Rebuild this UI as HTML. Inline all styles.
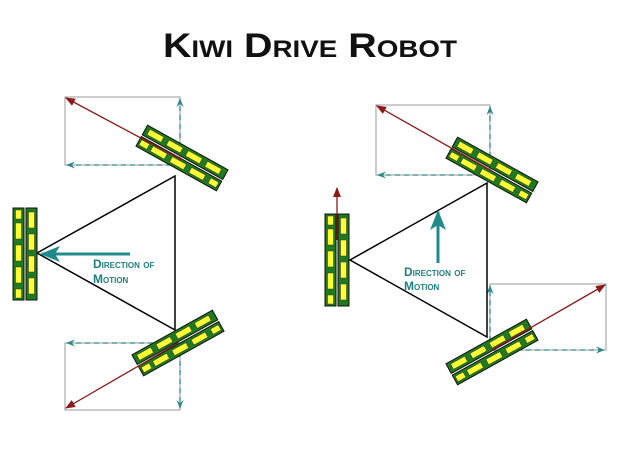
<!DOCTYPE html>
<html><head><meta charset="utf-8"><style>
html,body{margin:0;padding:0;background:#fff;}
svg{display:block;}
text{font-family:"Liberation Sans",sans-serif;font-variant:small-caps;font-weight:bold;}
</style></head><body>
<svg width="620" height="465" viewBox="0 0 620 465" xmlns="http://www.w3.org/2000/svg">
<defs>
<g id="strip">
<rect x="-46" y="-5.5" width="92" height="11" fill="#1f7a1f" stroke="#000" stroke-width="1"/>
</g>
<g id="wheel">
<rect x="-46" y="-12" width="92" height="11" fill="#1f7a1f" stroke="#111" stroke-width="1"/>
<rect x="-46" y="1" width="92" height="11" fill="#1f7a1f" stroke="#111" stroke-width="1"/>
<g fill="#ffff33" stroke="#333" stroke-width="0.5">
<rect x="-42" y="-9.5" width="16" height="6"/><rect x="-20" y="-9.5" width="16" height="6"/><rect x="2" y="-9.5" width="16" height="6"/><rect x="24" y="-9.5" width="16" height="6"/>
<rect x="-31" y="3.5" width="16" height="6"/><rect x="-9" y="3.5" width="16" height="6"/><rect x="13" y="3.5" width="16" height="6"/><rect x="35" y="3.5" width="9" height="6"/><rect x="-44" y="3.5" width="9" height="6"/>
</g>
</g>
<marker id="ar" markerWidth="10" markerHeight="8" refX="9" refY="4" orient="auto" markerUnits="userSpaceOnUse"><path d="M0,0 L10,4 L0,8 Z" fill="#8b1a1a"/></marker>
<marker id="at" markerWidth="9" markerHeight="7" refX="8" refY="3.5" orient="auto" markerUnits="userSpaceOnUse"><path d="M0,0 L9,3.5 L0,7 L3,3.5 Z" fill="#2a8a8a"/></marker>
<marker id="big" markerWidth="20" markerHeight="16" refX="18" refY="8" orient="auto" markerUnits="userSpaceOnUse"><path d="M0,0 L20,8 L0,16 L5,8 Z" fill="#1f8a8a"/></marker>
</defs>

<text x="310" y="57" text-anchor="middle" font-size="34" textLength="294" lengthAdjust="spacingAndGlyphs" fill="#111">Kiwi Drive Robot</text>

<!-- LEFT DIAGRAM -->
<g fill="none" stroke="#999" stroke-width="1">
<rect x="65" y="97" width="115" height="68"/>
<rect x="65" y="343" width="115" height="67"/>
</g>
<g stroke="#2a8a8a" stroke-width="1.3" stroke-dasharray="5,4" fill="none">
<line x1="180" y1="165" x2="180" y2="99" marker-end="url(#at)"/>
<line x1="180" y1="165" x2="67" y2="165" marker-end="url(#at)"/>
<line x1="180" y1="343" x2="180" y2="408" marker-end="url(#at)"/>
<line x1="180" y1="343" x2="67" y2="343" marker-end="url(#at)"/>
</g>
<polygon points="37,253 175,176 175,330" fill="none" stroke="#000" stroke-width="1.5"/>
<use href="#wheel" transform="translate(182,158) rotate(29)"/>
<use href="#wheel" transform="translate(178,343) rotate(-29)"/>
<use href="#wheel" transform="translate(25,254) rotate(90)"/>
<line x1="182" y1="160" x2="66" y2="98" stroke="#8b1a1a" stroke-width="1.3" marker-end="url(#ar)"/>
<line x1="178" y1="343" x2="66" y2="408" stroke="#8b1a1a" stroke-width="1.3" marker-end="url(#ar)"/>
<line x1="130" y1="254" x2="42" y2="254" stroke="#1f8a8a" stroke-width="3" marker-end="url(#big)"/>
<text x="93" y="268" font-size="12" fill="#1f7f7f">Direction of</text>
<text x="93" y="283" font-size="12" fill="#1f7f7f">Motion</text>

<!-- RIGHT DIAGRAM -->
<g fill="none" stroke="#999" stroke-width="1">
<rect x="376" y="105" width="114" height="70"/>
<rect x="490" y="284" width="116" height="66"/>
</g>
<g stroke="#2a8a8a" stroke-width="1.3" stroke-dasharray="5,4" fill="none">
<line x1="490" y1="175" x2="490" y2="107" marker-end="url(#at)"/>
<line x1="490" y1="175" x2="378" y2="175" marker-end="url(#at)"/>
<line x1="490" y1="350" x2="490" y2="286" marker-end="url(#at)"/>
<line x1="490" y1="350" x2="604" y2="350" marker-end="url(#at)"/>
</g>
<polygon points="350,260 487,183 487,337" fill="none" stroke="#000" stroke-width="1.5"/>
<use href="#wheel" transform="translate(492,170) rotate(29)"/>
<use href="#wheel" transform="translate(492,352) rotate(-29)"/>
<use href="#wheel" transform="translate(337,260) rotate(90)"/>
<line x1="492" y1="171" x2="377" y2="106" stroke="#8b1a1a" stroke-width="1.3" marker-end="url(#ar)"/>
<line x1="492" y1="350" x2="605" y2="285" stroke="#8b1a1a" stroke-width="1.3" marker-end="url(#ar)"/>
<line x1="337" y1="240" x2="337" y2="188" stroke="#8b1a1a" stroke-width="1.3" marker-end="url(#ar)"/>
<line x1="438" y1="263" x2="438" y2="212" stroke="#1f8a8a" stroke-width="3" marker-end="url(#big)"/>
<text x="404" y="276" font-size="12" fill="#1f7f7f">Direction of</text>
<text x="404" y="290" font-size="12" fill="#1f7f7f">Motion</text>
</svg>
</body></html>
